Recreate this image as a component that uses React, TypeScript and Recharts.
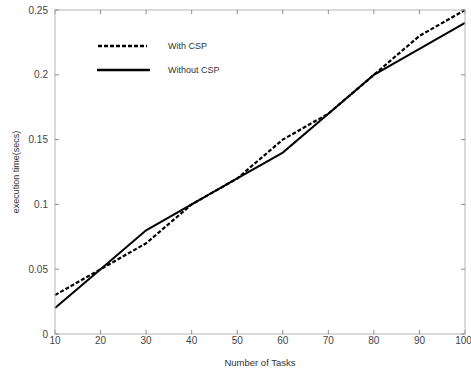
import { LineChart, Line, XAxis, YAxis, Label } from "recharts";

const tasks = [10, 20, 30, 40, 50, 60, 70, 80, 90, 100];
const withCsp = [0.03, 0.05, 0.07, 0.1, 0.12, 0.15, 0.17, 0.2, 0.23, 0.25];
const withoutCsp = [0.02, 0.05, 0.08, 0.1, 0.12, 0.14, 0.17, 0.2, 0.22, 0.24];
const yTicks = [0, 0.05, 0.1, 0.15, 0.2, 0.25];

const data = tasks.map((t, i) => ({ tasks: t, withCsp: withCsp[i], withoutCsp: withoutCsp[i] }));

const font = "'Liberation Sans', Arial, sans-serif";
const frame = "#b5b5b5";
const tickLine = { stroke: "#8a8a8a" };
const tickStyle = { fontSize: 10, fill: "#444", fontFamily: font };

// legend drawn over the plot, like the matlab one
const LegendBox = () => (
  <div style={{ position: "absolute", left: 97, top: 34, fontFamily: font, fontSize: 9, color: "#333" }}>
    <div style={{ display: "flex", alignItems: "center", height: 24 }}>
      <svg width={71} height={6}>
        <line x1={1} y1={3} x2={50} y2={3} stroke="#000" strokeWidth={2.5} strokeDasharray="4 2" />
      </svg>
      <span>With CSP</span>
    </div>
    <div style={{ display: "flex", alignItems: "center", height: 24 }}>
      <svg width={71} height={6}>
        <line x1={0} y1={3} x2={53} y2={3} stroke="#000" strokeWidth={2.5} />
      </svg>
      <span>Without CSP</span>
    </div>
  </div>
);

const App = () => {
  return (
    <div style={{ position: "absolute", left: 0, top: 0, background: "#fff" }}>
      <LineChart width={471} height={368} data={data} margin={{ top: 9, right: 5, bottom: 0, left: 0 }}>
        <XAxis
          dataKey="tasks"
          type="number"
          domain={[10, 100]}
          ticks={tasks}
          stroke={frame}
          tickLine={tickLine}
          tickSize={-4}
          tickMargin={7}
          tick={tickStyle}
          height={34}
        >
          <Label value="Number of Tasks" position="insideBottom" offset={2} style={{ fontSize: 9.5, fill: "#333", fontFamily: font }} />
        </XAxis>
        <XAxis
          xAxisId="top"
          orientation="top"
          dataKey="tasks"
          type="number"
          domain={[10, 100]}
          ticks={tasks}
          stroke={frame}
          tickLine={tickLine}
          tickSize={-4}
          tickFormatter={() => ""}
          height={1}
        />
        <YAxis
          domain={[0, 0.25]}
          ticks={yTicks}
          stroke={frame}
          tickLine={tickLine}
          tickSize={-4}
          tickMargin={11}
          tick={tickStyle}
          width={55}
        >
          <Label
            content={({ viewBox }: any) => {
              const cx = viewBox.x + 16;
              const cy = viewBox.y + viewBox.height / 2;
              return (
                <text x={cx} y={cy} transform={`rotate(-90 ${cx} ${cy})`} textAnchor="middle" dominantBaseline="central" style={{ fontSize: 9, fill: "#333", fontFamily: font }}>
                  execution time(secs)
                </text>
              );
            }}
          />
        </YAxis>
        <YAxis
          yAxisId="right"
          orientation="right"
          domain={[0, 0.25]}
          ticks={yTicks}
          stroke={frame}
          tickLine={tickLine}
          tickSize={-4}
          tickFormatter={() => ""}
          width={1}
        />
        <Line type="linear" dataKey="withoutCsp" stroke="#000" strokeWidth={2} dot={false} isAnimationActive={false} />
        <Line type="linear" dataKey="withCsp" stroke="#000" strokeWidth={2.2} strokeDasharray="4 2" dot={false} isAnimationActive={false} />
        {/* invisible series so the top/right frame axes get drawn */}
        <Line xAxisId="top" yAxisId="right" dataKey="withCsp" stroke="none" dot={false} activeDot={false} legendType="none" isAnimationActive={false} />
      </LineChart>
      <LegendBox />
    </div>
  );
};

export default App;
